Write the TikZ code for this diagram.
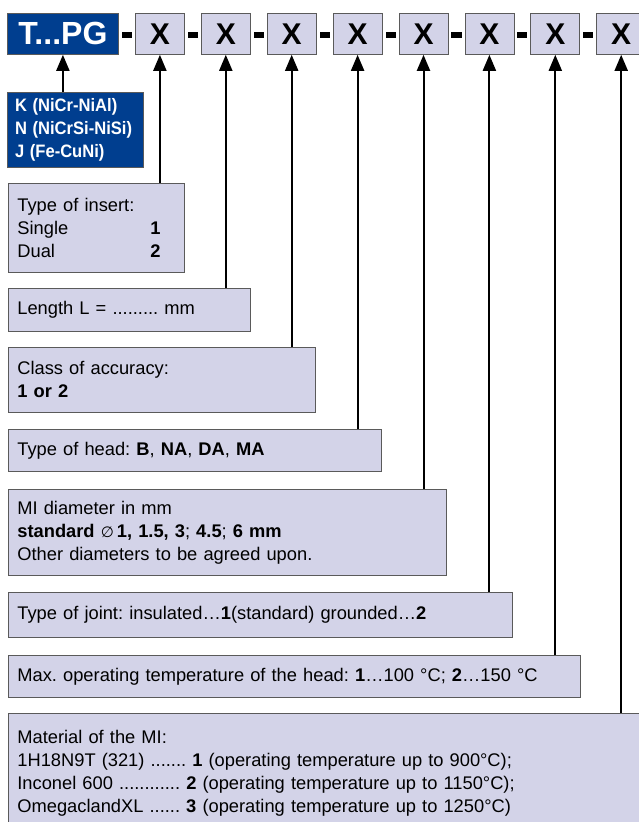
\documentclass[tikz,border=0pt]{standalone}
\usepackage{fontspec}
\usepackage{graphicx}
\setmainfont{Liberation Sans}
\newfontfamily\dejavu{DejaVu Sans}
\usetikzlibrary{arrows.meta,calc}
\definecolor{lav}{RGB}{211,211,232}
\definecolor{dblue}{RGB}{0,62,143}
\definecolor{bord}{RGB}{90,90,90}
\frenchspacing
\begin{document}
\begin{tikzpicture}[x=1pt,y=-1pt,
  xbox/.style={draw=bord,fill=lav,line width=0.8pt,minimum width=49pt,minimum height=41pt,inner sep=0pt,anchor=north west,font=\fontsize{30}{30}\selectfont\bfseries},
  info/.style={draw=bord,fill=lav,line width=0.8pt,anchor=north west,inner xsep=9pt,inner ysep=0pt,align=left,font=\fontsize{18.3}{23}\selectfont},
  arr/.style={line width=2pt,-{Triangle[width=13pt,length=16pt]}},
  dashbar/.style={fill=black}
  ]
\useasboundingbox (0,0) rectangle (638,822);
% top row
\node[xbox,fill=dblue,draw=bord,text=white,minimum width=111pt,font=\fontsize{32}{32}\selectfont\bfseries] (tpg) at (7,13) {T...PG};
\foreach \i in {1,...,8}{
  \node[xbox] (x\i) at ({135+65.9*(\i-1)},13) {X};
}
\fill[dashbar] ($(tpg.east)+(3,-1.5)$) rectangle ($(x1.west)+(-3,4.5)$);
\foreach \i/\j in {1/2,2/3,3/4,4/5,5/6,6/7,7/8}{
  \fill[dashbar] ($(x\i.east)+(3,-1.5)$) rectangle ($(x\j.west)+(-3,4.5)$);
}
% thermocouple types
\node[draw=bord,fill=dblue,text=white,anchor=north west,text width=120pt,minimum height=75pt,inner xsep=8pt,inner ysep=0pt,align=left,font=\fontsize{18}{23}\selectfont\bfseries] (types) at (7,92)
  {\scalebox{0.92}[1]{K (NiCr-NiAl)}\\\scalebox{0.92}[1]{N (NiCrSi-NiSi)}\\\scalebox{0.92}[1]{J (Fe-CuNi)}};
% info boxes
\node[info,text width=158pt,minimum height=89pt] (b1) at (8,183)
  {Type of insert:\\\makebox[133pt][l]{Single}\textbf{1}\\\makebox[133pt][l]{Dual}\textbf{2}};
\node[info,text width=224pt,minimum height=43pt] (b2) at (8,288)
  {Length L = ......... mm};
\node[info,text width=289pt,minimum height=65pt] (b3) at (8,347)
  {Class of accuracy:\\\textbf{1 or 2}};
\node[info,text width=355pt,minimum height=42pt] (b4) at (8,429)
  {Type of head: \textbf{B}, \textbf{NA}, \textbf{DA}, \textbf{MA}};
\node[info,text width=420pt,minimum height=86pt] (b5) at (8,489)
  {MI diameter in mm\\\textbf{standard} {\dejavu\fontsize{15}{23}\selectfont ∅}\,\textbf{1, 1.5, 3}; \textbf{4.5}; \textbf{6 mm}\\Other diameters to be agreed upon.};
\node[info,text width=486pt,minimum height=45pt] (b6) at (8,592)
  {Type of joint: insulated…\textbf{1}(standard) grounded…\textbf{2}};
\node[info,text width=554pt,minimum height=42pt] (b7) at (8,655)
  {Max. operating temperature of the head: \textbf{1}…100 °C; \textbf{2}…150 °C};
\node[info,text width=632pt,minimum height=120pt] (b8) at (8,713)
  {Material of the MI:\\1H18N9T (321) ....... \textbf{1} (operating temperature up to 900°C);\\Inconel 600 ............ \textbf{2} (operating temperature up to 1150°C);\\OmegaclandXL ...... \textbf{3} (operating temperature up to 1250°C)};
% arrows
\draw[arr] (tpg.south |- types.north) -- (tpg.south);
\draw[arr] (x1.south |- b1.north) -- (x1.south);
\draw[arr] (x2.south |- b2.north) -- (x2.south);
\draw[arr] (x3.south |- b3.north) -- (x3.south);
\draw[arr] (x4.south |- b4.north) -- (x4.south);
\draw[arr] (x5.south |- b5.north) -- (x5.south);
\draw[arr] (x6.south |- b6.north) -- (x6.south);
\draw[arr] (x7.south |- b7.north) -- (x7.south);
\draw[arr] (x8.south |- b8.north) -- (x8.south);
\end{tikzpicture}
\end{document}
